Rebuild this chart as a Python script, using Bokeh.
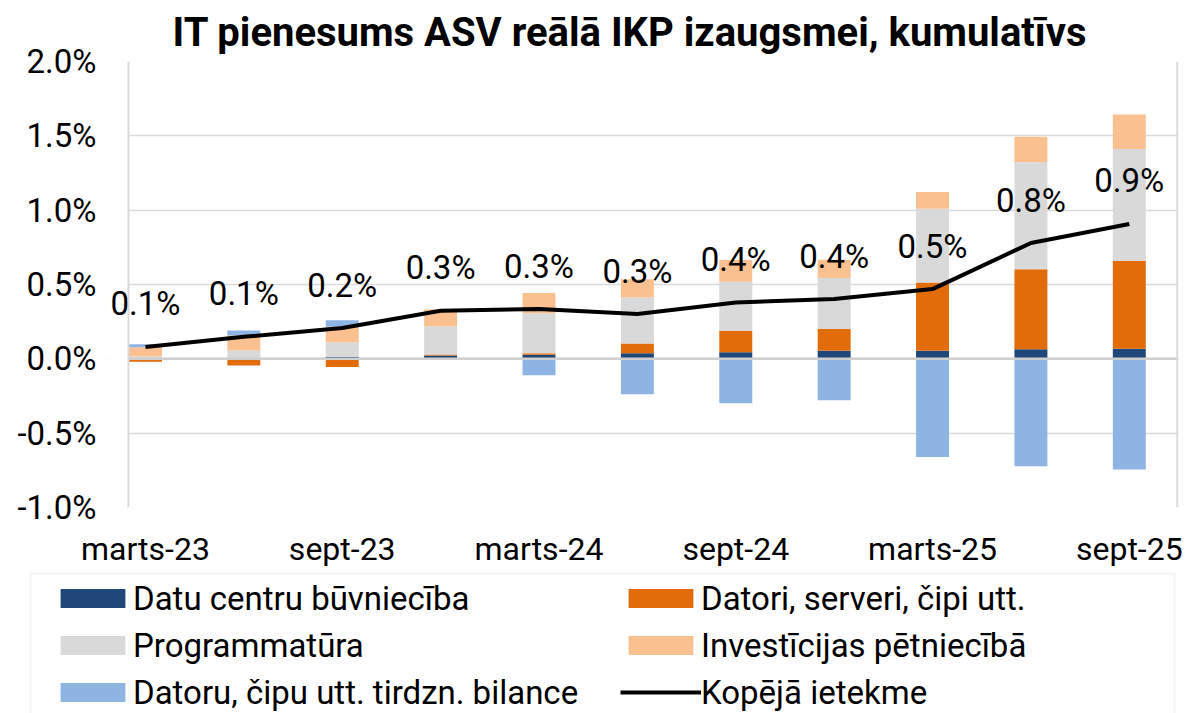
from bokeh.plotting import figure
from bokeh.layouts import column
from bokeh.models import (Range1d, FixedTicker, PrintfTickFormatter, Span, Legend,
                          LegendItem, LabelSet, ColumnDataSource, Title, BoxAnnotation)
from bokeh.core.properties import value
from bokeh.embed import file_html
from bokeh.resources import INLINE

# ---- data (percentage points, cumulative) ----
periods = ["marts-23", "jūn-23", "sept-23", "dec-23", "marts-24", "jūn-24",
           "sept-24", "dec-24", "marts-25", "jūn-25", "sept-25"]
datu_centri = [0.003, 0.002, 0.013, 0.022, 0.027, 0.038, 0.045, 0.054, 0.054, 0.065, 0.067]
datori = [-0.02, -0.045, -0.055, 0.007, 0.011, 0.065, 0.144, 0.146, 0.46, 0.537, 0.593]
programmatura = [0.012, 0.056, 0.099, 0.19, 0.269, 0.31, 0.33, 0.343, 0.496, 0.72, 0.752]
investicijas = [0.063, 0.099, 0.103, 0.112, 0.135, 0.123, 0.146, 0.123, 0.112, 0.171, 0.231]
tirdzn_bilance = [0.02, 0.034, 0.045, -0.008, -0.11, -0.238, -0.298, -0.278, -0.66, -0.723, -0.745]
kopeja = [0.08, 0.148, 0.207, 0.323, 0.335, 0.301, 0.379, 0.402, 0.469, 0.779, 0.907]

series_names = ["Datu centru būvniecība", "Datori, serveri, čipi utt.", "Programmatūra",
                "Investīcijas pētniecībā", "Datoru, čipu utt. tirdzn. bilance"]
series_vals = [datu_centri, datori, programmatura, investicijas, tirdzn_bilance]
series_colors = ["#1F477A", "#E36C0A", "#D9D9D9", "#FAC090", "#8EB4E3"]
line_name = "Kopējā ietekme"
y_ticks = [-1.0, -0.5, 0.0, 0.5, 1.0, 1.5, 2.0]
tick_step = 2

FONT = "Roboto"
GRID = "#D9D9D9"
x = list(range(len(periods)))
X_LEFT_EDGE = -0.173   # plot-area border (Excel draws bars offset from it)

p = figure(width=1190, height=570, output_backend="svg", toolbar_location=None,
           x_range=Range1d(-0.396, 10.5), y_range=Range1d(-1.0, 2.0),
           min_border_left=106, min_border_right=12, min_border_top=61,
           min_border_bottom=63)
p.frame_align = False
p.background_fill_color = "white"
p.outline_line_color = None

p.title = Title(text="IT pienesums ASV reālā IKP izaugsmei, kumulatīvs", align="left",
                offset=66, standoff=12, text_font=FONT, text_font_style="bold",
                text_font_size="40px", text_color="black", text_line_height=0.75)

# stacked bars: positive and negative values stacked separately (Excel style)
pos = [0.0] * len(x)
neg = [0.0] * len(x)
bar_renderers = []
for name, vals, col in zip(series_names, series_vals, series_colors):
    bottoms, tops = [], []
    for i, v in enumerate(vals):
        if v >= 0:
            bottoms.append(pos[i]); tops.append(pos[i] + v); pos[i] += v
        else:
            tops.append(neg[i]); bottoms.append(neg[i] + v); neg[i] += v
    r = p.vbar(x=x, bottom=bottoms, top=tops, width=0.335, fill_color=col,
               line_color=None)
    bar_renderers.append((name, r))

p.add_layout(Span(location=0, dimension="width", line_color="#CFCFCF", line_width=2.5))
# white mask left of the plot-area border, then the borders
p.add_layout(BoxAnnotation(right=X_LEFT_EDGE, fill_color="white", fill_alpha=1.0,
                           line_color=None))
p.add_layout(Span(location=X_LEFT_EDGE, dimension="height", line_color=GRID, line_width=2))
p.add_layout(Span(location=10.488, dimension="height", line_color=GRID, line_width=2))

lr = p.line(x, kopeja, line_color="black", line_width=4)

labels_txt = [f"{v:.1f}%" for v in kopeja]
src = ColumnDataSource(dict(x=x, y=kopeja, t=labels_txt))
p.add_layout(LabelSet(x="x", y="y", text="t", source=src, text_align="center",
                      text_baseline="middle", y_offset=43, text_font=value(FONT),
                      text_font_size="33px", text_color="black"))

p.xgrid.grid_line_color = None
p.ygrid.grid_line_color = GRID
p.ygrid.grid_line_width = 1.5
p.ygrid.ticker = FixedTicker(ticks=y_ticks)

p.yaxis.ticker = FixedTicker(ticks=y_ticks)
p.yaxis.formatter = PrintfTickFormatter(format="%.1f%%")
p.yaxis.axis_line_color = None
p.yaxis.major_tick_line_color = None
p.yaxis.minor_tick_line_color = None
p.yaxis.major_tick_out = 0
p.yaxis.major_label_standoff = 10
p.yaxis.major_label_text_font = FONT
p.yaxis.major_label_text_font_size = "33px"
p.yaxis.major_label_text_color = "black"

xt = x[::tick_step]
p.xaxis.ticker = FixedTicker(ticks=xt)
p.xaxis.major_label_overrides = {i: periods[i] for i in xt}
p.xaxis.axis_line_color = None
p.xaxis.major_tick_line_color = None
p.xaxis.minor_tick_line_color = None
p.xaxis.major_tick_out = 0
p.xaxis.major_label_standoff = 22
p.xaxis.major_label_text_font = FONT
p.xaxis.major_label_text_font_size = "32px"
p.xaxis.major_label_text_color = "black"

# ---- legend panel (separate strip under the chart) ----
leg = figure(width=1190, height=143, output_backend="svg", toolbar_location=None,
             x_range=Range1d(0, 1148), y_range=Range1d(0, 142),
             min_border_left=28, min_border_right=14, min_border_top=1,
             min_border_bottom=0)
leg.frame_align = False
leg.axis.visible = False
leg.grid.grid_line_color = None
leg.outline_line_color = None
leg.add_layout(BoxAnnotation(left=2, right=1146, top=140, bottom=-20, fill_alpha=0,
                             line_color=GRID, line_width=2))
nan = float("nan")
items = []
for name, col in zip(series_names, series_colors):
    r = leg.vbar(x=[nan], top=[nan], width=1, fill_color=col, line_color=None)
    items.append(LegendItem(label=name, renderers=[r]))
rl = leg.line([nan], [nan], line_color="black", line_width=4)
items.append(LegendItem(label=line_name, renderers=[rl]))
legend = Legend(items=items, orientation="horizontal", ncols=2, location=(24, -2.5),
                glyph_width=81, glyph_height=24, label_standoff=0, label_width=487,
                label_height=47, spacing=0, padding=0, margin=0,
                label_text_font=FONT, label_text_font_size="33px",
                label_text_color="black", border_line_color=None,
                background_fill_alpha=0)
leg.add_layout(legend, "center")

layout = column(p, leg, spacing=0)
open("out.html", "w").write(file_html(layout, INLINE))
